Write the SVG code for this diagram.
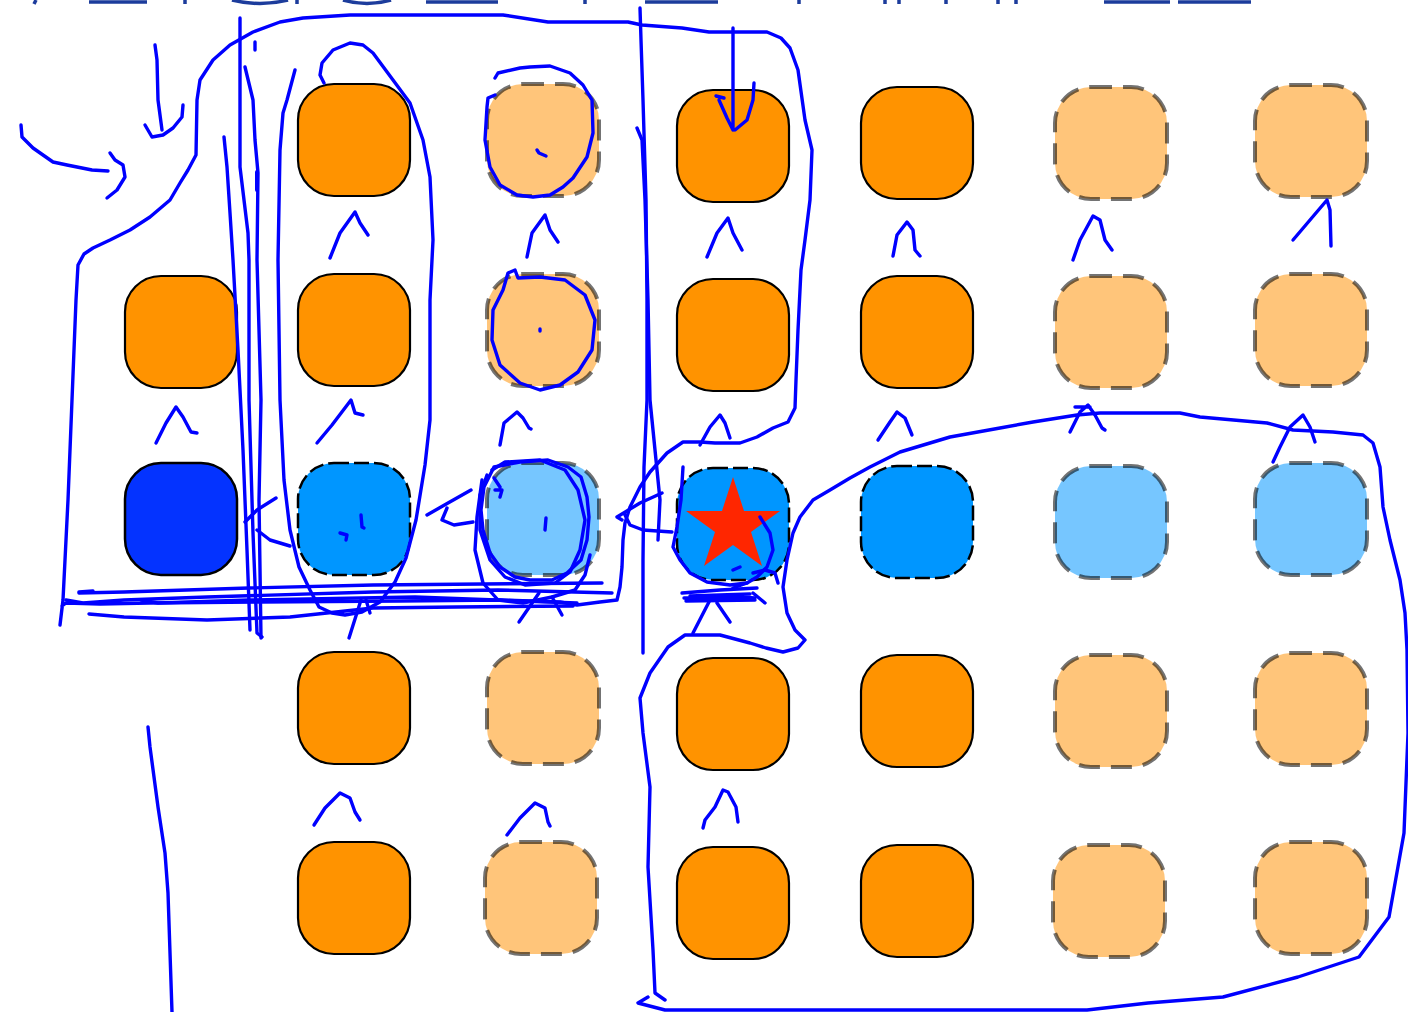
<svg xmlns="http://www.w3.org/2000/svg" width="1408" height="1012" viewBox="0 0 1408 1012">
<style>
.or{fill:#FF9300;stroke:#000;stroke-width:2.2}
.lo{fill:#FFC57A;stroke:#000;stroke-opacity:.55;stroke-width:4;stroke-dasharray:21 11}
.db{fill:#0433FF;stroke:#000;stroke-width:2.5}
.bd{fill:#0096FF;stroke:#000;stroke-width:2.5;stroke-dasharray:15 5}
.lb{fill:#76C6FF;stroke:#000;stroke-opacity:.55;stroke-width:4;stroke-dasharray:21 11}
.ink{fill:none;stroke:#0000FF;stroke-width:3.4;stroke-linecap:round;stroke-linejoin:round}
.frag{fill:none;stroke:#1C3C9C;stroke-width:3.5;stroke-linecap:butt}
</style>
<rect width="1408" height="1012" fill="#fff"/>
<g id="top-fragments" class="frag">
<path d="M36,0 L34,4 M89,2 L147,2 M185,0 L185,4 M232,0 Q260,7 288,0 M297,0 L297,4 M343,0 Q367,7 391,0 M426,2 L498,2 M585,0 L585,4 M645,2 L718,2 M799,0 L799,4 M885,0 L885,4 M899,0 L899,4 M946,0 L946,4 M998,0 L998,4 M1016,0 L1016,4 M1104,2 L1170,2 M1178,2 L1251,2"/>
</g>
<g id="nodes">
<g id="n-r0c1"><rect class="or" x="298" y="84" width="112" height="112" rx="36"/></g>
<g id="n-r0c2"><rect class="lo" x="487" y="84" width="112" height="112" rx="36"/></g>
<g id="n-r0c3"><rect class="or" x="677" y="90" width="112" height="112" rx="36"/></g>
<g id="n-r0c4"><rect class="or" x="861" y="87" width="112" height="112" rx="36"/></g>
<g id="n-r0c5"><rect class="lo" x="1055" y="87" width="112" height="112" rx="36"/></g>
<g id="n-r0c6"><rect class="lo" x="1255" y="85" width="112" height="112" rx="36"/></g>
<g id="n-r1c0"><rect class="or" x="125" y="276" width="112" height="112" rx="36"/></g>
<g id="n-r1c1"><rect class="or" x="298" y="274" width="112" height="112" rx="36"/></g>
<g id="n-r1c2"><rect class="lo" x="487" y="274" width="112" height="112" rx="36"/></g>
<g id="n-r1c3"><rect class="or" x="677" y="279" width="112" height="112" rx="36"/></g>
<g id="n-r1c4"><rect class="or" x="861" y="276" width="112" height="112" rx="36"/></g>
<g id="n-r1c5"><rect class="lo" x="1055" y="276" width="112" height="112" rx="36"/></g>
<g id="n-r1c6"><rect class="lo" x="1255" y="274" width="112" height="112" rx="36"/></g>
<g id="n-r2c0"><rect class="db" x="125" y="463" width="112" height="112" rx="36"/></g>
<g id="n-r2c1"><rect class="bd" x="298" y="463" width="112" height="112" rx="36"/></g>
<g id="n-r2c2"><rect class="lb" x="487" y="463" width="112" height="112" rx="36"/></g>
<g id="n-r2c3"><rect class="bd" x="677" y="468" width="112" height="112" rx="36"/>
<polygon fill="#FF2600" points="733,477 744,511 780,511 751,532 762,566 733,545 704,566 715,532 686,511 722,511"/></g>
<g id="n-r2c4"><rect class="bd" x="861" y="466" width="112" height="112" rx="36"/></g>
<g id="n-r2c5"><rect class="lb" x="1055" y="466" width="112" height="112" rx="36"/></g>
<g id="n-r2c6"><rect class="lb" x="1255" y="463" width="112" height="112" rx="36"/></g>
<g id="n-r3c1"><rect class="or" x="298" y="652" width="112" height="112" rx="36"/></g>
<g id="n-r3c2"><rect class="lo" x="487" y="652" width="112" height="112" rx="36"/></g>
<g id="n-r3c3"><rect class="or" x="677" y="658" width="112" height="112" rx="36"/></g>
<g id="n-r3c4"><rect class="or" x="861" y="655" width="112" height="112" rx="36"/></g>
<g id="n-r3c5"><rect class="lo" x="1055" y="655" width="112" height="112" rx="36"/></g>
<g id="n-r3c6"><rect class="lo" x="1255" y="653" width="112" height="112" rx="36"/></g>
<g id="n-r4c1"><rect class="or" x="298" y="842" width="112" height="112" rx="36"/></g>
<g id="n-r4c2"><rect class="lo" x="485" y="842" width="112" height="112" rx="36"/></g>
<g id="n-r4c3"><rect class="or" x="677" y="847" width="112" height="112" rx="36"/></g>
<g id="n-r4c4"><rect class="or" x="861" y="845" width="112" height="112" rx="36"/></g>
<g id="n-r4c5"><rect class="lo" x="1053" y="845" width="112" height="112" rx="36"/></g>
<g id="n-r4c6"><rect class="lo" x="1255" y="842" width="112" height="112" rx="36"/></g>
</g>
<g id="connectors" class="ink">
<path d="M330,258 L340,233 L355,212 L360,223 L368,235"/>
<path d="M527,257 L532,233 L545,215 L550,230 L558,242"/>
<path d="M707,257 L717,233 L728,218 L733,233 L742,250"/>
<path d="M893,256 L897,235 L907,222 L913,230 L915,250 L920,256"/>
<path d="M1073,260 L1080,240 L1093,216 L1100,220 L1105,240 L1112,250"/>
<path d="M1293,240 L1310,220 L1327,200 L1330,210 L1331,246"/>
<path d="M156,443 L166,423 L176,407 L183,417 L191,432 L197,433"/>
<path d="M317,443 L332,425 L351,400 L355,413 L363,415"/>
<path d="M500,445 L504,423 L517,412 L523,418 L529,428 L531,429"/>
<path d="M700,445 L710,427 L720,415 L725,423 L730,438"/>
<path d="M878,440 L890,422 L897,412 L905,418 L912,435"/>
<path d="M1070,432 L1080,412 L1088,405 L1095,415 L1102,428 L1105,430 M1075,407 L1090,407"/>
<path d="M1273,462 L1280,447 L1290,427 L1303,415 L1310,427 L1315,442"/>
<path d="M314,825 L325,808 L340,793 L350,798 L355,812 L360,820"/>
<path d="M507,835 L520,818 L535,803 L545,808 L548,822 L550,826"/>
<path d="M703,828 L705,820 L715,807 L723,790 L728,792 L736,807 L738,822"/>
<path d="M21,125 L22,137 L33,148 L53,162 L67,165 L92,170 L108,171 M110,153 L115,160 L123,165 L125,177 L117,190 L107,198"/>
<path d="M155,45 L157,60 L158,100 L162,130 M145,125 L152,137 L163,135 L173,128 L182,117 L183,105"/>
<path d="M733,28 L733,130 M716,96 L724,98 M719,100 L727,118 L733,130 M754,83 L753,100 L747,120 L735,130"/>
<path d="M60,625 L63,600 L65,560 L68,500 L70,450 L72,400 L74,350 L76,300 L78,265 L84,254 L93,248 L110,240 L130,230 L150,217 L170,200 L180,183 L188,170 L196,155 L197,100 L200,80 L213,60 L230,45 L253,32 L280,22 L303,18 L350,15 L503,15 L548,22 L628,22 L642,25 L682,28 L709,32 L767,32 L781,38 L790,48 L798,70 L805,120 L812,150 L810,200 L805,240 L801,270 L798,330 L796,380 L795,408 L788,422 L773,428 L757,437 L740,443 L715,443 L700,442 L683,442 L667,453 L650,472 L640,487 L630,507 L625,523 L623,540 L622,567 L620,587 L617,600 L600,602 L577,605 L560,602 L500,600 L400,601 L260,602 L150,603 L100,604 L66,603 L62,606"/>
<path d="M79,593 L124,592 L249,588 L373,585 L602,583"/>
<path d="M66,600 L83,603 L124,600 L207,597 L373,592 L498,590 L612,593"/>
<path d="M141,600 L158,603 L249,600 L415,597 L577,603"/>
<path d="M89,614 L124,617 L207,620 L290,617 L373,608 L456,607 L573,606"/>
<path d="M79,592 L93,591"/>
<path d="M240,18 L240,167 L244,200 L248,233 L249,260 L249,400 L253,533 L257,633 L262,637"/>
<path d="M245,67 L253,100 L255,140 L258,173 L257,260 L261,400 L259,500 L261,638"/>
<path d="M224,137 L227,167 L230,213 L233,260 L238,350 L243,450 L247,550 L250,630"/>
<path d="M255,42 L255,50"/>
<path d="M257,172 L257,190" stroke-width="4"/>
<path d="M295,70 L287,100 L283,113 L280,150 L278,260 L280,400 L284,480 L290,530 L299,567 L310,590 L319,607 L332,613 L345,615 L362,612 L380,602 L395,582 L406,558 L416,520 L425,465 L430,420 L430,300 L433,240 L430,177 L423,140 L410,103 L393,80 L373,53 L363,45 L350,43 L333,50 L322,63 L320,75 L324,83"/>
<path d="M245,522 L257,510 L276,498 M257,530 L270,540 L290,546"/>
<path d="M361,515 L362,527 L364,528 M340,533 L347,535 L346,540"/>
<path d="M361,600 L349,638 M366,600 L370,613"/>
<path d="M495,78 L498,73 L520,68 L530,67 L550,66 L570,73 L583,85 L592,100 L593,133 L587,157 L573,178 L563,187 L550,195 L533,197 L517,195 L500,185 L490,167 L485,140 L487,107 L488,98 L495,95"/>
<path d="M537,150 L539,153 L546,156"/>
<path d="M503,290 L508,273 L515,270 L518,278 L540,277 L565,280 L585,295 L595,320 L592,350 L578,372 L560,385 L540,390 L520,383 L500,365 L492,340 L493,310 L503,290"/>
<path d="M540,329 L540,331"/>
<path d="M494,467 L520,462 L548,460 L568,467 L581,477 L587,497 L589,517 L587,540 L581,560 L567,573 L552,580 L530,580 L515,577 L500,567 L490,553 L483,530 L481,510 L484,487 L494,467"/>
<path d="M492,470 L505,462 L540,460 L565,470 L578,490 L585,520 L580,550 L570,572 L555,583 L525,585 L505,577 L490,560 L480,530 L480,495 L487,475"/>
<path d="M482,480 L477,517 L475,550 L483,583 L498,600 L523,603 L552,597 L575,590 L585,575 L590,555"/>
<path d="M494,478 L500,487 M495,490 L502,490 L500,497 M546,518 L545,530"/>
<path d="M539,593 L519,622 M552,597 L562,615"/>
<path d="M427,515 L448,503 L471,490 M447,508 L442,520 L454,525 L473,522"/>
<path d="M640,8 L641,40 L643,100 L646,200 L647,300 L647,400 L644,467 L643,560 L643,653"/>
<path d="M637,128 L642,140 L645,200 L648,300 L650,400 L655,450 L660,500 L658,540"/>
<path d="M662,493 L640,503 L617,517 L622,520 M625,515 L630,525 L643,530 L672,532"/>
<path d="M683,467 L681,500 L677,527 L673,547 L680,560 L690,573 L707,582 L730,585 L747,583"/>
<path d="M760,517 L770,533 L773,550 L767,567 L757,577 L747,583 L733,588"/>
<path d="M733,570 L740,567 M753,573 L765,570 L775,573 L778,583"/>
<path d="M682,593 L720,590 L757,588 M684,598 L740,597 L755,598 M686,601 L755,600 M690,596 L750,594"/>
<path d="M710,600 L693,633 M717,603 L730,622 M753,593 L765,603"/>
<path d="M648,997 L638,1003 L665,1010 L1087,1010 L1148,1003 L1223,997 L1298,977 L1359,957 L1389,917 L1404,833 L1408,733 L1407,650 L1405,613 L1400,580 L1390,540 L1383,507 L1380,467 L1373,443 L1363,435 L1333,432 L1293,430 L1267,423 L1200,417 L1180,413 L1100,413 L1077,415 L1033,422 L1000,428 L950,437 L900,452 L870,467 L850,478 L830,490 L813,500 L800,517 L793,533 L787,560 L783,587 L787,613 L795,630 L805,640 L798,648 L783,652 L766,648 L750,643 L720,635 L685,635 L668,647 L650,673 L640,698 L643,733 L650,787 L648,867 L653,950 L655,993 L665,1000"/>
<path d="M148,727 L150,747 L158,807 L165,853 L168,893 L172,1012"/>
</g>
</svg>
